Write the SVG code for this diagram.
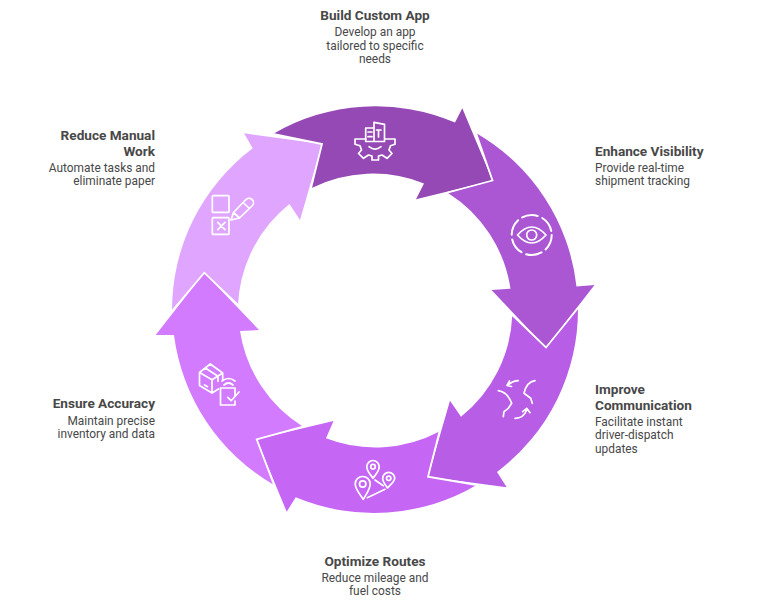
<svg xmlns="http://www.w3.org/2000/svg" width="757" height="601" viewBox="0 0 757 601">
<style>
.edge{fill:none;stroke:#fff;stroke-width:1.8;stroke-linejoin:miter}
.ic{fill:none;stroke:#fff;stroke-width:1.7;stroke-linecap:round;stroke-linejoin:round}
.t{font-family:"Roboto","Liberation Sans",sans-serif;font-size:13.6px;font-weight:700;fill:#484848}
.d{font-family:"Roboto","Liberation Sans",sans-serif;font-size:11.9px;fill:#484848}
.m{text-anchor:middle}.e{text-anchor:end}
</style>
<rect width="757" height="601" fill="#fff"/>
<g id="connectors">
<path fill="#9549b4" d="M273 134A203 203 0 0 1 455 122.500L462.300 108.300L492.500 180.500L416 199.300L424 183.500A137 137 0 0 0 311 188.300L322 144Z"/>
<path fill="#ab57d4" d="M476 133A203 203 0 0 1 576.500 286.500L594.500 285L546 347.500L491.500 290L510.500 288.700A137 137 0 0 0 448 193L492.500 180.500Z"/>
<path fill="#b85de6" d="M578 308A203 203 0 0 1 497 472L506.700 487.300L428 476.700L450 400.700L461 416.700A137 137 0 0 0 512.300 315L546 347.500Z"/>
<path fill="#c566f5" d="M476.700 485A203 203 0 0 1 295.700 497.300L286.700 511.700L256.700 439.300L333.500 421L326 438.300A137 137 0 0 0 439.500 431.500L428 476.700Z"/>
<path fill="#d27bff" d="M274 485A203 203 0 0 1 174 335L155.700 335L204.300 272.700L259 330L240 331A137 137 0 0 0 303 426.700L256.700 439.300Z"/>
<path fill="#e0a6ff" d="M172 311A203 203 0 0 1 252.700 148.300L244 133.300L322 144L300 220L289.500 204A137 137 0 0 0 238 305L204.300 272.700Z"/>
<polyline class="edge" points="476,133 492.500,180.500 448,192.500"/>
<polyline class="edge" points="578,308 546,347.500 512.300,315"/>
<polyline class="edge" points="476.700,485 428,476.700 439.500,431.500"/>
<polyline class="edge" points="274,485 256.700,439.300 303,426.700"/>
<polyline class="edge" points="172,311 204.300,272.700 238,305"/>
<polyline class="edge" points="273,134 322,144 311,188.300"/>
</g>
<g id="build-custom-app">
<path class="ic" d="M365.700 139H355V144.300L360 145.700L361.500 150L358.500 153.500L363.500 158.300L368.500 155L372 156V160H378.500V156L382 155L387 158.300L392 153.500L389 150L390.500 145.700L395 144.300V139H385"/>
<path class="ic" d="M369 146.700Q375 151.500 381 146.700M365.700 141.500V128H374M374 141.500V122.300L384.500 124.300V141.500H365.700M368 132H372M368 136.700H372M376.500 130H381M378.500 130V137"/>
<text class="t m" x="375" y="20">Build Custom App</text>
<text class="d m" x="375" y="36">Develop an app</text>
<text class="d m" x="375" y="49.500">tailored to specific</text>
<text class="d m" x="375" y="63">needs</text>
</g>
<g id="enhance-visibility">
<circle cx="531.700" cy="235" r="20" fill="none" stroke="#fff" stroke-width="2" stroke-dasharray="16 4.940" stroke-linecap="round"/>
<path class="ic" d="M517.500 235Q531.700 219 546 235Q531.700 251 517.500 235Z"/>
<circle class="ic" cx="531.700" cy="235" r="5"/>
<text class="t" x="595" y="156.300">Enhance Visibility</text>
<text class="d" x="595" y="171.500">Provide real-time</text>
<text class="d" x="595" y="185">shipment tracking</text>
</g>
<g id="improve-communication">
<path class="ic" d="M518.300 380.700Q512 381 507.800 385.500M509.500 381L507 385.500L511.500 386.500M498.300 390.700Q507.300 392 511.700 403.300L508.300 408.300L504 411.700L503.300 416.700M535 380.700Q526.500 382 524 393.300L530.700 398.300L532.300 403.300M515 418.300Q523.500 418.300 526.700 410M522.700 411.700L526.700 408.300L530 412.700"/>
<text class="t" x="595" y="394.300">Improve</text>
<text class="t" x="595" y="410.300">Communication</text>
<text class="d" x="595" y="425.800">Facilitate instant</text>
<text class="d" x="595" y="439.300">driver-dispatch</text>
<text class="d" x="595" y="452.800">updates</text>
</g>
<g id="optimize-routes">
<path class="ic" d="M363.300 499.300C359 493 355.200 489 355.200 484A7.500 7.500 0 0 1 370.200 484C370.200 489 367 493 363.300 499.300ZM373 478.300C370 474 366.800 471 366.800 466.700A6.200 6.200 0 0 1 379.200 466.700C379.200 471 376 474 373 478.300ZM387.500 488C385 484.500 382.700 482 382.700 478.300A6 6 0 0 1 394.700 478.300C394.700 482 390 484.500 387.500 488ZM375 480L383.300 485.700M367.300 497.700L385 489.300"/>
<circle class="ic" cx="362.700" cy="484" r="3.200"/>
<circle class="ic" cx="373" cy="466.700" r="2.300"/>
<circle class="ic" cx="388.700" cy="478.300" r="2.200"/>
<text class="t m" x="375" y="566">Optimize Routes</text>
<text class="d m" x="375" y="581.800">Reduce mileage and</text>
<text class="d m" x="375" y="595">fuel costs</text>
</g>
<g id="ensure-accuracy">
<path class="ic" d="M210.300 364L199.500 372.500V385.500L212 393L218.500 389M222.700 380V373L210.300 364M199.500 372.500L212 379.700L222.700 373M212 379.700V393M205.300 368L218 376.300V381.300M204.500 385L207.500 386.700"/>
<path class="ic" d="M235 396V388H220.500V405H235V401M227.700 397.300L231.200 400.700L239 392M224 385Q228.500 381 233 385M222 381Q228.500 376 235 381"/>
<text class="t e" x="155" y="408.300">Ensure Accuracy</text>
<text class="d e" x="155" y="424.800">Maintain precise</text>
<text class="d e" x="155" y="438">inventory and data</text>
</g>
<g id="reduce-manual-work">
<rect class="ic" x="212.300" y="195.700" width="16.700" height="16.700" rx="1"/>
<rect class="ic" x="212.300" y="217.700" width="16.700" height="16.700" rx="1"/>
<path class="ic" d="M217.700 222.300L225 229.700M225 222.300L217.700 229.700M231 220L233.500 212.500L245.500 200A3.800 3.800 0 0 1 252.500 205.500L239.500 218ZM233.500 212.500L239.500 218M243 202.500L249.500 208.500"/>
<text class="t e" x="155" y="140.300">Reduce Manual</text>
<text class="t e" x="155" y="156.300">Work</text>
<text class="d e" x="155" y="171.500">Automate tasks and</text>
<text class="d e" x="155" y="185">eliminate paper</text>
</g>
</svg>
